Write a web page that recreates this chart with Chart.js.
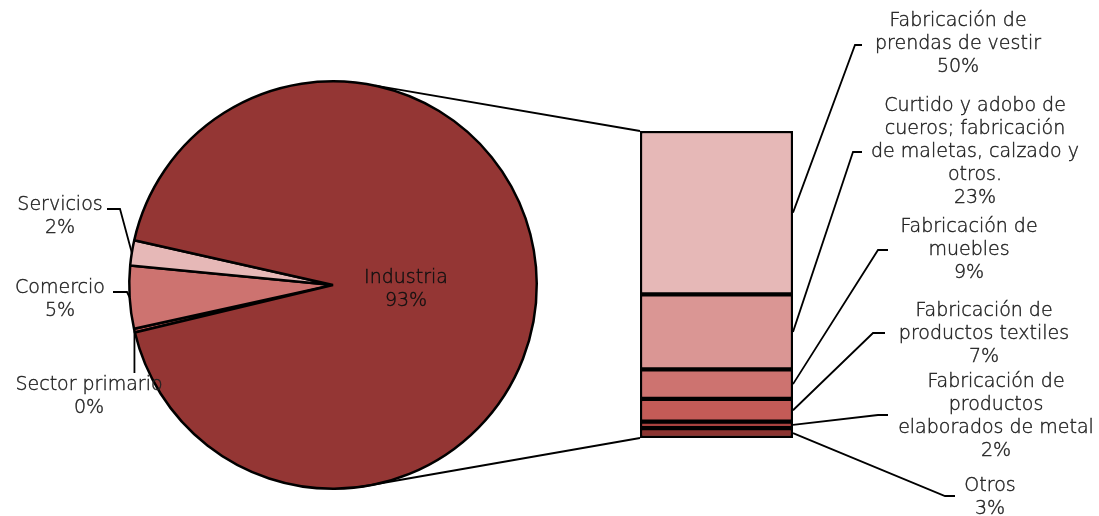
<!DOCTYPE html>
<html>
<head>
<meta charset="utf-8">
<script src="https://cdn.jsdelivr.net/npm/chart.js@4/dist/chart.umd.min.js"></script>
<style>
  html, body { margin: 0; padding: 0; background: #fff; }
  #wrap { position: relative; width: 1099px; height: 516px; }
  #wrap canvas { position: absolute; left: 0; top: 0; }
</style>
</head>
<body>
<div id="wrap">
  <canvas id="pieChart" width="1099" height="516"></canvas>
  <canvas id="barChart" width="1099" height="516"></canvas>
</div>
<script>
// Sectores (pastel)
const sectorLabels = ['Sector primario', 'Comercio', 'Servicios', 'Industria'];
const sectorValues = [0.3, 5, 2, 93];
const sectorColors = ['#B85450', '#CD7370', '#E6B8B7', '#943634'];

// Desglose de la industria (barra apilada, de abajo hacia arriba)
const industriaLabels = [
  ['Otros'],
  ['Fabricación de', 'productos', 'elaborados de metal'],
  ['Fabricación de', 'productos textiles'],
  ['Fabricación de', 'muebles'],
  ['Curtido y adobo de', 'cueros; fabricación', 'de maletas, calzado y', 'otros.'],
  ['Fabricación de', 'prendas de vestir']
];
const industriaValues = [3, 2, 7, 9, 23, 50];
const industriaColors = ['#8C3431', '#A8423F', '#C45B57', '#CD7370', '#DA9694', '#E6B8B7'];

const FONT = '200 19px "DejaVu Sans", sans-serif';
const TEXT = '#222';

function pct(v) { return Math.round(v) + '%'; }

function drawLines(ctx, pts) {
  ctx.beginPath();
  ctx.moveTo(pts[0][0], pts[0][1]);
  for (let i = 1; i < pts.length; i++) ctx.lineTo(pts[i][0], pts[i][1]);
  ctx.stroke();
}

// bloque de texto centrado; el trazo fino oscurece la fuente ligera
function drawBlock(ctx, lines, x, y, lh) {
  ctx.save();
  ctx.strokeStyle = ctx.fillStyle;
  ctx.lineWidth = 0.4;
  lines.forEach((t, i) => {
    ctx.fillText(t, x, y + i * lh);
    ctx.strokeText(t, x, y + i * lh);
  });
  ctx.restore();
}

// etiquetas del pastel: centro del texto y guía desde el arco
const pieLabelPos = [
  { x: 89, y: 385, guide: (p) => [[p.x, p.y], [p.x, 373]] },
  { x: 60, y: 288, guide: (p) => [[p.x, p.y], [127, 292], [113, 292]] },
  { x: 60, y: 205, guide: (p) => [[p.x, p.y], [120, 209], [107, 209]] },
  { x: 406, y: 278, guide: null }
];

const pieLabelsPlugin = {
  id: 'pieLabels',
  afterDraw(chart) {
    const ctx = chart.ctx;
    const meta = chart.getDatasetMeta(0);
    ctx.save();
    ctx.font = FONT;
    ctx.textAlign = 'center';
    ctx.textBaseline = 'middle';
    ctx.strokeStyle = '#000';
    ctx.lineWidth = 1.8;
    meta.data.forEach((arc, i) => {
      const pos = pieLabelPos[i];
      const mid = (arc.startAngle + arc.endAngle) / 2;
      const p = { x: arc.x + Math.cos(mid) * arc.outerRadius, y: arc.y + Math.sin(mid) * arc.outerRadius };
      if (pos.guide) drawLines(ctx, pos.guide(p));
      ctx.fillStyle = i === 3 ? '#111' : TEXT;
      drawBlock(ctx, [sectorLabels[i], pct(sectorValues[i])], pos.x, pos.y, 23);
    });
    ctx.restore();
  }
};

const pieChart = new Chart(document.getElementById('pieChart'), {
  type: 'pie',
  data: {
    labels: sectorLabels,
    datasets: [{
      data: sectorValues,
      backgroundColor: sectorColors,
      borderColor: '#000',
      borderWidth: 2.5
    }]
  },
  options: {
    responsive: false,
    animation: false,
    rotation: 256.5,
    layout: { padding: { left: 128, right: 561, top: 80, bottom: 26 } },
    plugins: { legend: { display: false }, tooltip: { enabled: false } }
  },
  plugins: [pieLabelsPlugin]
});

// posiciones de etiquetas de la barra: centro del texto y codo de la guía
const barLabelPos = [
  { x: 990, y: 486, elbow: [[945, 496], [955, 496]] },
  { x: 996, y: 382, elbow: [[878, 415], [888, 415]] },
  { x: 984, y: 311, elbow: [[873, 333], [885, 333]] },
  { x: 969, y: 227, elbow: [[878, 250], [888, 250]] },
  { x: 975, y: 106, elbow: [[853, 152], [862, 152]] },
  { x: 958, y: 21, elbow: [[855, 45], [862, 45]] }
];

const barLabelsPlugin = {
  id: 'barLabels',
  afterDraw(chart) {
    const ctx = chart.ctx;
    ctx.save();
    ctx.strokeStyle = '#000';
    ctx.lineWidth = 1.8;

    // guías del pastel a la barra
    const arc = pieChart.getDatasetMeta(0).data[3];
    const a1 = -78 * Math.PI / 180, a2 = 82.5 * Math.PI / 180;
    const first = chart.getDatasetMeta(0).data[0];
    const last = chart.getDatasetMeta(industriaValues.length - 1).data[0];
    const left = first.x - first.width / 2;
    drawLines(ctx, [[arc.x + Math.cos(a1) * arc.outerRadius, arc.y + Math.sin(a1) * arc.outerRadius], [left, last.y]]);
    drawLines(ctx, [[arc.x + Math.cos(a2) * arc.outerRadius, arc.y + Math.sin(a2) * arc.outerRadius], [left, first.base]]);

    ctx.font = FONT;
    ctx.textAlign = 'center';
    ctx.textBaseline = 'middle';
    ctx.fillStyle = TEXT;
    industriaValues.forEach((v, i) => {
      const bar = chart.getDatasetMeta(i).data[0];
      const right = bar.x + bar.width / 2;
      const midY = (bar.y + bar.base) / 2;
      const pos = barLabelPos[i];
      drawLines(ctx, [[right, midY]].concat(pos.elbow));
      drawBlock(ctx, industriaLabels[i].concat([pct(v)]), pos.x, pos.y, 23);
    });
    ctx.restore();
  }
};

new Chart(document.getElementById('barChart'), {
  type: 'bar',
  data: {
    labels: ['Industria'],
    datasets: industriaValues.map((v, i) => ({
      label: industriaLabels[i].join(' '),
      data: [v],
      backgroundColor: industriaColors[i],
      borderColor: '#000',
      borderWidth: 2.5,
      borderSkipped: false,
      barPercentage: 1,
      categoryPercentage: 1
    }))
  },
  options: {
    responsive: false,
    animation: false,
    layout: { padding: { left: 640, right: 306, top: 131, bottom: 78 } },
    scales: {
      x: { stacked: true, display: false },
      y: { stacked: true, display: false, min: 0, max: industriaValues.reduce((a, b) => a + b, 0) }
    },
    plugins: { legend: { display: false }, tooltip: { enabled: false } }
  },
  plugins: [barLabelsPlugin]
});
</script>
</body>
</html>
